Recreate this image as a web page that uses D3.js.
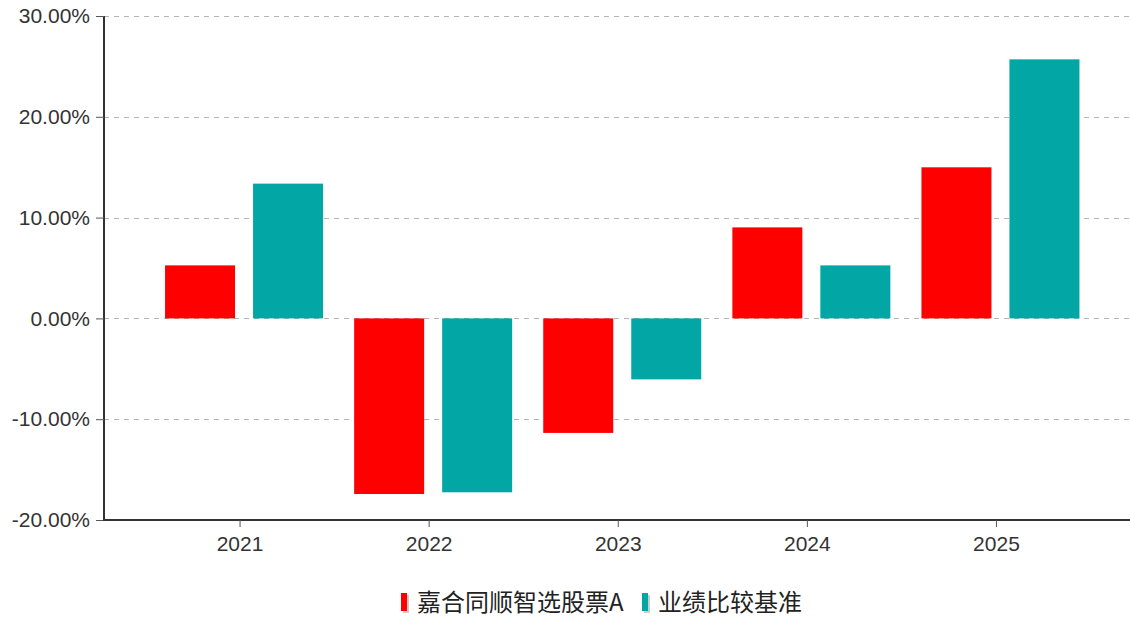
<!DOCTYPE html>
<html><head><meta charset="utf-8">
<script src="https://cdn.jsdelivr.net/npm/d3@7"></script>
<style>body{margin:0;background:#fff;}svg{display:block;}</style>
</head><body>
<svg id="c" width="1130" height="621"></svg>
<script>
const categories = ["2021","2022","2023","2024","2025"];
const seriesNames = ["嘉合同顺智选股票A","业绩比较基准"];
const fundValues = [5.26, -17.42, -11.36, 9.03, 14.99];
const benchValues = [13.37, -17.25, -6.05, 5.26, 25.70];
const yTicks = [-20, -10, 0, 10, 20, 30];
const colors = ["#ff0000", "#02a7a5"];

(function(){
const svg = d3.select("#c");
const pLeft = 104, pRight = 1130, pTop = 16, pBottom = 520;
const x = d3.scaleBand().domain(categories).range([145.5, 1091]).padding(0);
const x1 = d3.scaleBand().domain(seriesNames).range([-75, 83]).paddingInner(18/88).paddingOuter(0);
const y = d3.scaleLinear().domain([-20, 30]).range([pBottom, pTop]);

// grid
svg.append("g").selectAll("line").data(yTicks).join("line")
  .attr("x1", pLeft).attr("x2", pRight)
  .attr("y1", d => Math.round(y(d)) + 0.5).attr("y2", d => Math.round(y(d)) + 0.5)
  .attr("stroke", "#b4b4b4").attr("stroke-width", 1).attr("stroke-dasharray", "5,5");

// bars
const rows = categories.map((c, i) => ({c, vals: [fundValues[i], benchValues[i]]}));
const g = svg.append("g");
rows.forEach(r => {
  r.vals.forEach((v, j) => {
    g.append("rect")
      .attr("x", x(r.c) + x.bandwidth()/2 + x1(seriesNames[j]))
      .attr("width", x1.bandwidth())
      .attr("y", y(Math.max(0, v)))
      .attr("height", Math.abs(y(v) - y(0)))
      .attr("fill", colors[j]);
  });
});

// y axis
const yAxis = d3.axisLeft(y).tickValues(yTicks).tickSize(8).tickPadding(6)
  .tickFormat(d => d.toFixed(2) + "%");
const ya = svg.append("g").attr("transform", `translate(${pLeft},0)`).call(yAxis);
ya.select(".domain").attr("stroke", "#333").attr("stroke-width", 2).attr("d", `M0,${pTop}V${pBottom}`);
ya.selectAll(".tick line").attr("stroke", "#555");
ya.selectAll("text").attr("font-family", "'Liberation Sans', Arial, sans-serif").attr("font-size", 21).attr("fill", "#333");

// x axis
const xAxis = d3.axisBottom(x).tickSize(7).tickPadding(9);
const xa = svg.append("g").attr("transform", `translate(0,${pBottom})`).call(xAxis);
xa.select(".domain").attr("stroke", "#333").attr("stroke-width", 2).attr("d", `M${pLeft - 1},0H${pRight}`);
xa.selectAll(".tick line").attr("stroke", "#555");
xa.selectAll("text").attr("font-family", "'Liberation Sans', Arial, sans-serif").attr("font-size", 21).attr("fill", "#333");

// legend
const legendX = [401, 642];
const lg = svg.append("g");
seriesNames.forEach((s, j) => {
  lg.append("rect").attr("x", legendX[j] + 2).attr("y", 595).attr("width", 6).attr("height", 18).attr("fill", "#ccc");
  lg.append("rect").attr("x", legendX[j]).attr("y", 593).attr("width", 6).attr("height", 18).attr("fill", colors[j]);
  lg.append("text").attr("x", legendX[j] + 16).attr("y", 611)
    .attr("font-family", "'Noto Sans CJK SC', sans-serif").attr("font-size", 24).attr("fill", "#222")
    .text(s);
});
})();
</script>
</body></html>
